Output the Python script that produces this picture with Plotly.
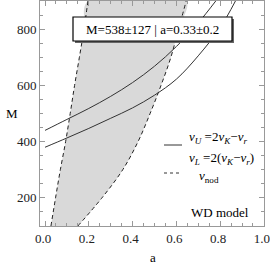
import plotly.graph_objects as go

# nodal-precession boundary curves (a as a function of M)
M_nod = [100, 200, 300, 400, 500, 600, 700, 800, 900]
a_nod_left = [0.027, 0.048, 0.070, 0.094, 0.115, 0.135, 0.157, 0.178, 0.196]
a_nod_right = [0.150, 0.260, 0.355, 0.425, 0.480, 0.530, 0.575, 0.610, 0.645]

# upper resonance curve nu_U = 2nu_K - nu_r
a_U = [0.0, 0.1, 0.2, 0.3, 0.4, 0.5, 0.6, 0.7, 0.78]
M_U = [440, 479, 518, 561, 610, 668, 738, 822, 900]

# lower resonance curve nu_L = 2(nu_K - nu_r)
a_L = [0.0, 0.1, 0.2, 0.3, 0.4, 0.5, 0.6, 0.7, 0.8, 0.87]
M_L = [380, 413, 447, 483, 520, 565, 622, 705, 805, 900]

x_ticks = [0.0, 0.2, 0.4, 0.6, 0.8, 1.0]
y_ticks = [200, 400, 600, 800]

SERIF = "Liberation Serif"

L, R, T, B = 40, 264, 1, 226  # plot area in pixels


def px(xp):
    return (xp - L) / (R - L)


def py(yp):
    return (B - yp) / (B - T)


fig = go.Figure()

fig.add_trace(go.Scatter(
    x=a_nod_left + a_nod_right[::-1],
    y=M_nod + M_nod[::-1],
    fill="toself", fillcolor="#d9d9d9", mode="lines",
    line=dict(width=0, shape="spline"), hoverinfo="skip", showlegend=False))

for xs in (a_nod_left, a_nod_right):
    fig.add_trace(go.Scatter(x=xs, y=M_nod, mode="lines",
                             line=dict(color="#222", width=1, dash="4px,3px", shape="spline"),
                             showlegend=False))

fig.add_trace(go.Scatter(x=a_U, y=M_U, mode="lines",
                         line=dict(color="#333", width=1, shape="spline"), showlegend=False))
fig.add_trace(go.Scatter(x=a_L, y=M_L, mode="lines",
                         line=dict(color="#333", width=1, shape="spline"), showlegend=False))

axis_common = dict(
    showline=True, linecolor="#999", linewidth=1, mirror="allticks",
    ticks="inside", ticklen=5, tickcolor="#999", tickwidth=1,
    showgrid=False, zeroline=False, automargin=False,
    ticklabeloverflow="allow",
    tickfont=dict(family=SERIF, size=13, color="#222"),
)

fig.update_xaxes(range=[-0.023, 1.0005], tickvals=x_ticks, tickformat=".1f",
                 ticklabelshift=-2,
                 minor=dict(dtick=0.05, tick0=0, ticks="inside", ticklen=3, tickcolor="#999"),
                 **axis_common)
fig.update_yaxes(range=[100, 900], tickvals=y_ticks,
                 minor=dict(dtick=50, tick0=0, ticks="inside", ticklen=3, tickcolor="#999"),
                 **axis_common)

# annotation box with its drop shadow
fig.add_shape(type="rect", xref="paper", yref="paper",
              x0=px(75), x1=px(234), y0=py(43), y1=py(19),
              fillcolor="#666", line=dict(width=0), layer="above")
fig.add_shape(type="rect", xref="paper", yref="paper",
              x0=px(73), x1=px(232), y0=py(41), y1=py(17),
              fillcolor="white", line=dict(color="black", width=1.2), layer="above")

font = dict(family=SERIF, size=13, color="black")


def note(x, y, text, xanchor="center"):
    return dict(x=px(x), y=py(y), xref="paper", yref="paper", text=text,
                showarrow=False, font=font, xanchor=xanchor, yanchor="middle")


annotations = [
    note(152.5, 29, "M=538±127 | a=0.33±0.2"),
    note(187, 137, "<i>ν<sub>U</sub></i> =2<i>ν<sub>K</sub></i>−<i>ν<sub>r</sub></i>", "left"),
    note(187, 158, "<i>ν<sub>L</sub></i> =2(<i>ν<sub>K</sub></i>−<i>ν<sub>r</sub></i>)", "left"),
    note(197, 176, "<i>ν</i><sub>nod</sub>", "left"),
    note(220, 212, "WD model"),
    note(12, 113, "M"),
    note(153, 257, "a"),
]

# legend line samples
fig.add_shape(type="line", xref="paper", yref="paper", x0=px(164), x1=px(182),
              y0=py(145), y1=py(145), line=dict(color="#333", width=1))
fig.add_shape(type="line", xref="paper", yref="paper", x0=px(164), x1=px(182),
              y0=py(173), y1=py(173), line=dict(color="#333", width=1, dash="3px,3px"))

fig.update_layout(
    width=270, height=265,
    margin=dict(l=L, r=270 - R, t=T, b=265 - B, autoexpand=False),
    paper_bgcolor="white", plot_bgcolor="white",
    annotations=annotations, showlegend=False,
)

fig.write_html("out.html", config={"displayModeBar": False},
               post_script="document.body.style.margin='0';document.body.style.overflow='hidden';")
